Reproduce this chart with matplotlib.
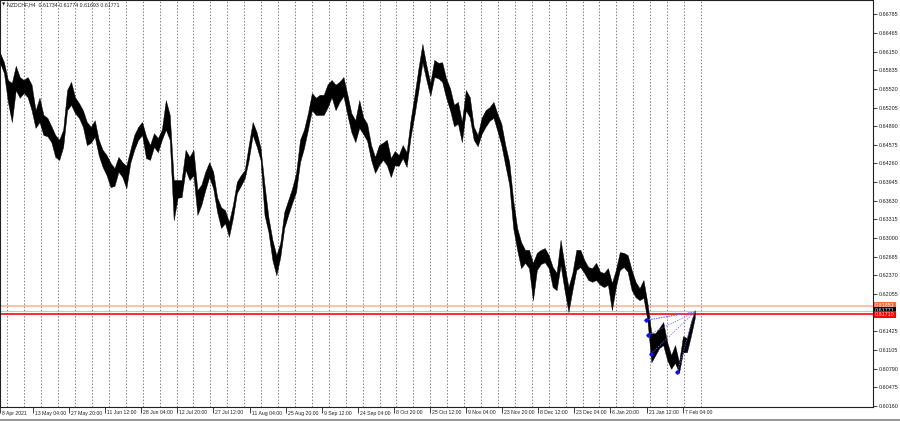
import numpy as np
import matplotlib
matplotlib.use("Agg")
import matplotlib.pyplot as plt
import matplotlib.transforms as mtransforms
from matplotlib.lines import Line2D

# ====== chart data ======
TITLE = "NZDCHF,H4  0.61734 0.61774 0.61693 0.61771"
STEP_BARS = 7          # one sample = 7 H4 bars
BAR_COUNT = 1548       # visible bars in the window

HIGH = [
    0.6613, 0.6597, 0.6567, 0.6562, 0.6591, 0.6572, 0.6567, 0.6572, 0.6559, 0.6516,
    0.6537, 0.6508, 0.6503, 0.6489, 0.6474, 0.6466, 0.6483, 0.6550, 0.6564, 0.6538,
    0.6528, 0.6516, 0.6496, 0.6488, 0.6499, 0.6466, 0.6449, 0.6440, 0.6427, 0.6418,
    0.6437, 0.6428, 0.6422, 0.6449, 0.6474, 0.6488, 0.6496, 0.6472, 0.6457, 0.6477,
    0.6469, 0.6483, 0.6533, 0.6508, 0.6398, 0.6398, 0.6398, 0.6449, 0.6437, 0.6449,
    0.6381, 0.6390, 0.6412, 0.6428, 0.6412, 0.6369, 0.6352, 0.6347, 0.6327, 0.6356,
    0.6395, 0.6406, 0.6415, 0.6457, 0.6496, 0.6479, 0.6452, 0.6390, 0.6335, 0.6297,
    0.6271, 0.6292, 0.6344, 0.6364, 0.6384, 0.6410, 0.6466, 0.6483, 0.6511, 0.6545,
    0.6537, 0.6542, 0.6542, 0.6560, 0.6567, 0.6559, 0.6564, 0.6572, 0.6542, 0.6511,
    0.6499, 0.6533, 0.6504, 0.6493, 0.6457, 0.6437, 0.6457, 0.6461, 0.6466, 0.6435,
    0.6447, 0.6440, 0.6457, 0.6445, 0.6499, 0.6542, 0.6587, 0.6628, 0.6592, 0.6562,
    0.6601, 0.6596, 0.6597, 0.6570, 0.6553, 0.6525, 0.6530, 0.6496, 0.6550, 0.6538,
    0.6488, 0.6474, 0.6503, 0.6516, 0.6521, 0.6530, 0.6510, 0.6493, 0.6457, 0.6428,
    0.6364, 0.6317, 0.6293, 0.6280, 0.6280, 0.6258, 0.6275, 0.6280, 0.6283, 0.6271,
    0.6251, 0.6241, 0.6297, 0.6254, 0.6217, 0.6241, 0.6280, 0.6280, 0.6263, 0.6251,
    0.6249, 0.6258, 0.6243, 0.6241, 0.6249, 0.6224, 0.6246, 0.6276, 0.6275, 0.6271,
    0.6246, 0.6226, 0.6215, 0.6229, 0.6190, 0.6139, 0.6139, 0.6148, 0.6158, 0.6124,
    0.6102, 0.6119, 0.6090, 0.6134, 0.6131, 0.6158, 0.6178,
]

LOW = [
    0.6596, 0.6579, 0.6530, 0.6496, 0.6550, 0.6537, 0.6545, 0.6538, 0.6516, 0.6486,
    0.6496, 0.6474, 0.6472, 0.6462, 0.6437, 0.6432, 0.6454, 0.6516, 0.6525, 0.6511,
    0.6503, 0.6488, 0.6457, 0.6461, 0.6471, 0.6440, 0.6420, 0.6406, 0.6386, 0.6388,
    0.6412, 0.6403, 0.6384, 0.6427, 0.6449, 0.6466, 0.6474, 0.6435, 0.6432, 0.6454,
    0.6445, 0.6466, 0.6483, 0.6466, 0.6330, 0.6368, 0.6369, 0.6415, 0.6398, 0.6406,
    0.6339, 0.6356, 0.6381, 0.6403, 0.6384, 0.6344, 0.6317, 0.6325, 0.6302, 0.6334,
    0.6376, 0.6388, 0.6401, 0.6432, 0.6474, 0.6455, 0.6432, 0.6339, 0.6310, 0.6263,
    0.6237, 0.6268, 0.6317, 0.6339, 0.6359, 0.6378, 0.6428, 0.6452, 0.6483, 0.6516,
    0.6508, 0.6508, 0.6508, 0.6521, 0.6538, 0.6516, 0.6530, 0.6540, 0.6508, 0.6479,
    0.6462, 0.6486, 0.6476, 0.6464, 0.6432, 0.6410, 0.6423, 0.6432, 0.6423, 0.6403,
    0.6423, 0.6422, 0.6435, 0.6420, 0.6471, 0.6508, 0.6550, 0.6597, 0.6567, 0.6540,
    0.6572, 0.6570, 0.6564, 0.6537, 0.6516, 0.6489, 0.6493, 0.6462, 0.6516, 0.6504,
    0.6466, 0.6455, 0.6476, 0.6488, 0.6498, 0.6503, 0.6481, 0.6457, 0.6423, 0.6390,
    0.6317, 0.6280, 0.6249, 0.6258, 0.6249, 0.6195, 0.6246, 0.6256, 0.6259, 0.6249,
    0.6217, 0.6212, 0.6254, 0.6212, 0.6175, 0.6212, 0.6246, 0.6251, 0.6241, 0.6229,
    0.6226, 0.6229, 0.6221, 0.6217, 0.6221, 0.6178, 0.6217, 0.6246, 0.6251, 0.6243,
    0.6212, 0.6200, 0.6195, 0.6199, 0.6161, 0.6090, 0.6102, 0.6114, 0.6119, 0.6094,
    0.6079, 0.6089, 0.6072, 0.6107, 0.6107, 0.6134, 0.6165,
]

DATE_LABELS = [
    "8 Apr 2021", "13 May 04:00", "27 May 20:00", "11 Jun 12:00", "28 Jun 04:00",
    "12 Jul 20:00", "27 Jul 12:00", "11 Aug 04:00", "25 Aug 20:00", "9 Sep 12:00",
    "24 Sep 04:00", "8 Oct 20:00", "25 Oct 12:00", "9 Nov 04:00", "23 Nov 20:00",
    "8 Dec 12:00", "23 Dec 04:00", "6 Jan 20:00", "21 Jan 12:00", "7 Feb 04:00",
]

PRICE_TICKS = [
    0.66785, 0.66465, 0.66150, 0.65835, 0.65520, 0.65205, 0.64890, 0.64575,
    0.64260, 0.63945, 0.63630, 0.63315, 0.63000, 0.62685, 0.62370, 0.62055,
    0.61425, 0.61105, 0.60790, 0.60475, 0.60160,
]

LEVEL_UPPER = 0.61851
BID = 0.61771
LEVEL_LOWER = 0.61710

# blue arrow marks and the point their dotted rays meet
MARK_BARS = [1146, 1149, 1154, 1201]
MARK_PRICES = [0.6161, 0.6136, 0.6104, 0.6073]
MID_BAR, MID_PRICE = 1174, 0.6166
APEX_BAR, APEX_PRICE = 1232, 0.6175

Y_MIN, Y_MAX = 0.60144, 0.67022
# ========================

FONT = ["Liberation Sans", "DejaVu Sans"]
FS = 3.9


def main():
    plt.rcParams["font.family"] = FONT
    fig = plt.figure(figsize=(9.0, 4.21), dpi=100)
    ax = fig.add_axes([0.0, 14 / 421, 873 / 900, 407 / 421])
    ax.set_xlim(0, BAR_COUNT)
    ax.set_ylim(Y_MIN, Y_MAX)

    # weekly period separators
    for b in range(13, 1250, 30):
        ax.axvline(b, color="#808080", lw=0.7, ls=(0, (1.5, 1.8)), zorder=1)

    # price band
    x = np.arange(len(HIGH)) * STEP_BARS
    ax.fill_between(x, LOW, HIGH, color="black", lw=0.3, zorder=3)

    # levels
    ax.axhline(LEVEL_UPPER, color="#ffb59c", lw=1.2, zorder=2)
    ax.axhline(BID, color="#c8c8c8", lw=0.8, zorder=2)
    ax.axhline(LEVEL_LOWER, color="#ff1a1a", lw=1.3, zorder=2)

    # dotted rays
    ray = dict(color="#6a6aff", lw=0.6, ls=(0, (1.5, 1.5)), zorder=4)
    for b, p in zip(MARK_BARS, MARK_PRICES):
        ax.plot([b, APEX_BAR], [p, APEX_PRICE], **ray)
    ax.plot([MARK_BARS[0], MID_BAR, APEX_BAR],
            [MARK_PRICES[0], MID_PRICE, APEX_PRICE], **ray)
    ax.plot(MARK_BARS, MARK_PRICES, ls="none", marker="D", ms=1.8,
            color="#1010ff", zorder=5)

    # axes look
    for s in ax.spines.values():
        s.set_color("#202020")
        s.set_linewidth(0.8)
    ax.yaxis.tick_right()
    ax.set_yticks(PRICE_TICKS)
    ax.set_yticklabels([f"{v:.5f}" for v in PRICE_TICKS])
    ax.tick_params(axis="y", length=3, width=0.6, pad=0.8, labelsize=FS,
                   colors="#202020")

    tick_bars = [0] + [58.5 + 64 * i for i in range(len(DATE_LABELS) - 1)]
    ax.set_xticks(tick_bars)
    ax.set_xticklabels([])
    ax.tick_params(axis="x", length=4, width=0.6, colors="#202020")
    off = mtransforms.ScaledTranslation(2 / 100, -6 / 100, fig.dpi_scale_trans)
    trans = mtransforms.blended_transform_factory(ax.transData, ax.transAxes) + off
    for b, lab in zip(tick_bars, DATE_LABELS):
        ax.text(b, 0, lab, transform=trans, ha="left", va="center",
                fontsize=3.7, color="#202020", clip_on=False)

    # price boxes on the right scale
    for price, fc in [(LEVEL_UPPER, "#ff6a3a"), (BID, "black"), (LEVEL_LOWER, "#ff0000")]:
        ax.annotate(f"{price:.5f}", xy=(1, price), xycoords=("axes fraction", "data"),
                    xytext=(2, 0), textcoords="offset pixels", ha="left", va="center",
                    fontsize=FS, color="white", annotation_clip=False,
                    bbox=dict(boxstyle="square,pad=0.2", fc=fc, ec="none"))

    # chart header
    ax.annotate("\u25bc", xy=(0, 1), xycoords="axes fraction", xytext=(2, -5),
                textcoords="offset pixels", ha="left", va="center", fontsize=3.0,
                color="#202020", family=["DejaVu Sans"])
    ax.annotate(TITLE, xy=(0, 1), xycoords="axes fraction", xytext=(7, -5),
                textcoords="offset pixels", ha="left", va="center", fontsize=3.8,
                color="#202020")

    fig.add_artist(Line2D([0, 1], [1 / 421, 1 / 421], color="#9a9a9a", lw=1.5))

    fig.savefig("out.png", dpi=100)
    plt.close(fig)


if __name__ == "__main__":
    main()
